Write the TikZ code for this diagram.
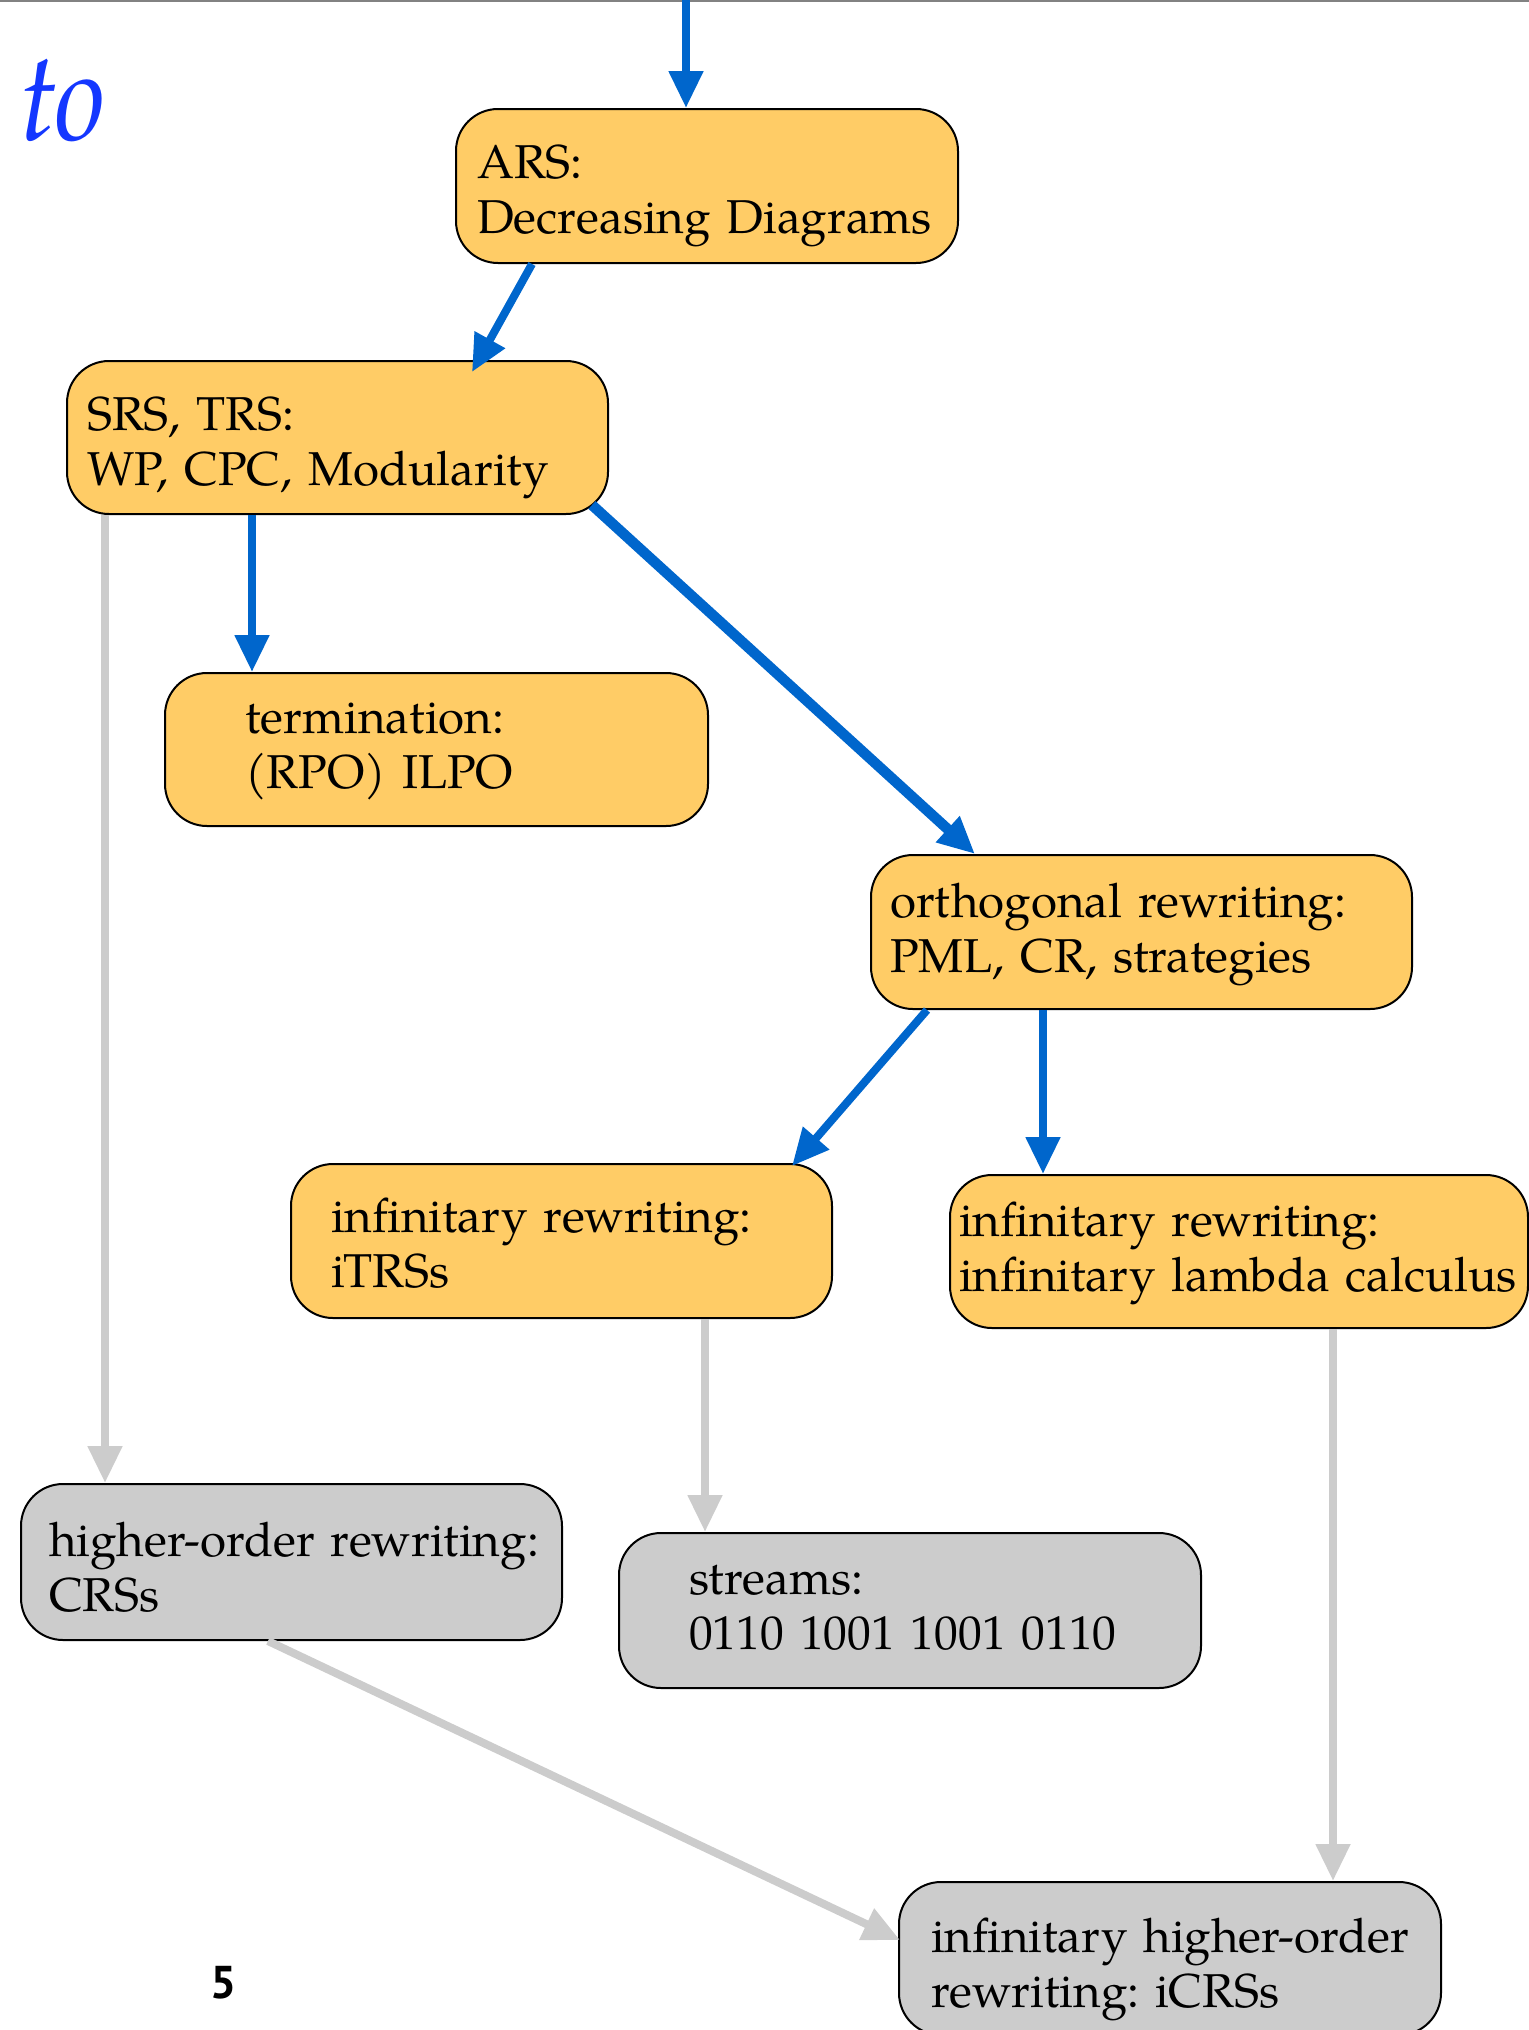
\documentclass[tikz,border=0pt]{standalone}
\usepackage{fontspec}
\setmainfont{TeX Gyre Pagella}[WordSpace=0.8]
\newfontfamily\pagenumfont{PT Sans}
\usetikzlibrary{arrows.meta}

\definecolor{boxorange}{RGB}{255,204,102}
\definecolor{boxgray}{RGB}{204,204,204}
\definecolor{linkblue}{RGB}{0,102,204}
\definecolor{linkgray}{RGB}{204,204,204}
\definecolor{titleblue}{RGB}{20,55,255}
\definecolor{rulegray}{RGB}{130,130,130}

\tikzset{
  topicbox/.style={draw=black, line width=2pt, rounded corners=42pt,
    anchor=north west, inner sep=0pt},
  hotbox/.style={topicbox, fill=boxorange},
  coldbox/.style={topicbox, fill=boxgray},
  boxtext/.style={anchor=base west, inner sep=0pt, text width=600pt,
    align=left, font=\frenchspacing\fontsize{47.5pt}{55pt}\selectfont},
  tip/.style={-{Triangle[length=37pt,width=33pt]}},
  hotlink/.style={tip, draw=linkblue, line width=8pt},
  hotlinkbold/.style={hotlink, line width=10.5pt},
  coldlink/.style={tip, draw=linkgray, line width=8pt},
}

\begin{document}
\begin{tikzpicture}[x=1pt, y=-1pt]
  \useasboundingbox (0,0) rectangle (1529,2030);
  \clip (0,0) rectangle (1529,2030);

  % thin rule along the top edge
  \draw[rulegray, line width=2pt] (0,1) -- (1529,1);

  % heading fragment
  \node[anchor=base west, inner sep=0pt, text=titleblue, xscale=0.9,
        font=\fontsize{126pt}{126pt}\selectfont\itshape] (heading) at (20,140) {to};

  % topic boxes
  \node[hotbox, minimum width=502pt, minimum height=154pt] (ars) at (455,108) {};
  \node[hotbox, minimum width=541pt, minimum height=153pt] (srs) at (66,360) {};
  \node[hotbox, minimum width=543pt, minimum height=153pt] (term) at (164,672) {};
  \node[hotbox, minimum width=541pt, minimum height=154pt] (orth) at (870,854) {};
  \node[hotbox, minimum width=541pt, minimum height=154pt] (itrs) at (290,1163) {};
  \node[hotbox, minimum width=578pt, minimum height=153pt] (ilam) at (949,1174) {};
  \node[coldbox, minimum width=541pt, minimum height=156pt] (hors) at (20,1483) {};
  \node[coldbox, minimum width=582pt, minimum height=155pt] (strm) at (618,1532) {};
  \node[coldbox, minimum width=542pt, minimum height=153pt] (icrs) at (898,1881) {};

  % box labels
  \node[boxtext] (arsT) at ([shift={(22,70)}]ars.north west) {ARS:\\Decreasing Diagrams};
  \node[boxtext] (srsT) at ([shift={(21,70)}]srs.north west) {SRS, TRS:\\WP, CPC, Modularity};
  \node[boxtext] (termT) at ([shift={(81,61)}]term.north west) {termination:\\(RPO) ILPO};
  \node[boxtext] (orthT) at ([shift={(20,63)}]orth.north west) {orthogonal rewriting:\\PML, CR, strategies};
  \node[boxtext] (itrsT) at ([shift={(41,69)}]itrs.north west) {infinitary rewriting:\\iTRSs};
  \node[boxtext] (ilamT) at ([shift={(10,62)}]ilam.north west) {infinitary rewriting:\\infinitary lambda calculus};
  \node[boxtext] (horsT) at ([shift={(29,73)}]hors.north west) {higher-order rewriting:\\CRSs};
  \node[boxtext] (strmT) at ([shift={(71,62)}]strm.north west) {streams:\\0110 1001 1001 0110};
  \node[boxtext] (icrsT) at ([shift={(33,71)}]icrs.north west) {infinitary higher-order\\rewriting: iCRSs};

  % page number
  \node[anchor=base west, inner sep=0pt,
        font=\pagenumfont\bfseries\fontsize{46pt}{46pt}\selectfont] (pnum) at (210,1998) {5};

  % entry from above
  \coordinate (entry) at (686,0);
  \draw[hotlink] (entry) -- ([xshift=231pt]ars.north west);

  % blue connectors
  \draw[hotlink] ([xshift=77pt]ars.south west) -- ([shift={(406,12)}]srs.north west);
  \draw[hotlink] ([xshift=186pt]srs.south west) -- ([xshift=88pt]term.north west);
  \draw[hotlinkbold] ([shift={(-17,-10)}]srs.south east) -- ([xshift=105pt]orth.north west);
  \draw[hotlink] ([xshift=57pt]orth.south west) -- ([shift={(-41,3)}]itrs.north east);
  \draw[hotlink] ([xshift=173pt]orth.south west) -- ([xshift=94pt]ilam.north west);

  % gray connectors
  \draw[coldlink] ([xshift=39pt]srs.south west) -- ([xshift=85pt]hors.north west);
  \draw[coldlink] ([xshift=415pt]itrs.south west) -- ([xshift=87pt]strm.north west);
  \draw[coldlink] ([xshift=384pt]ilam.south west) -- ([xshift=435pt]icrs.north west);
  \draw[coldlink] ([xshift=248pt]hors.south west) -- ([shift={(2,59)}]icrs.north west);
\end{tikzpicture}
\end{document}
